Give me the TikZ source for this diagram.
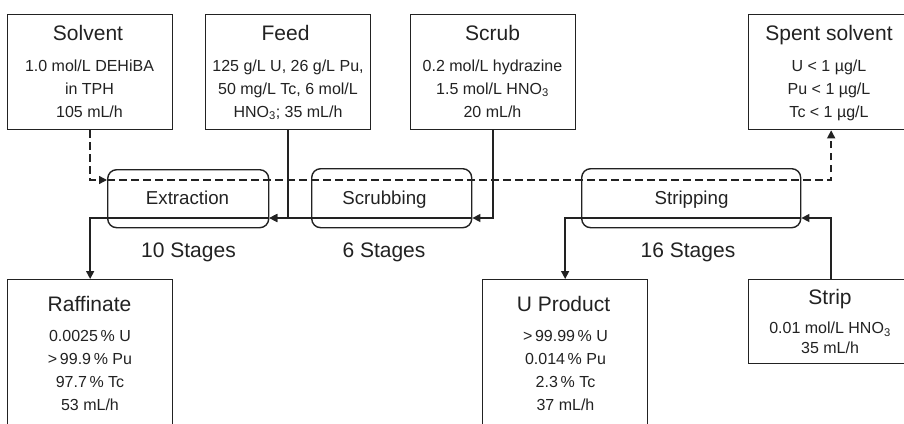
\documentclass[tikz,border=0pt]{standalone}
\usepackage{fontspec}
\setmainfont{Liberation Sans}
\usetikzlibrary{arrows.meta}
\definecolor{ink}{HTML}{222222}
\tikzset{
  x=1pt,y=-1pt,
  box/.style={draw=ink,line width=1.3pt,rectangle,minimum width=165pt,inner sep=0pt,anchor=north west},
  stagebox/.style={draw=ink,line width=1.4pt,rectangle,rounded corners=9pt,inner sep=0pt,anchor=north west},
  ttl/.style={text=ink,font=\fontsize{21}{24}\selectfont,inner sep=0pt,anchor=base},
  body/.style={text=ink,font=\fontsize{16}{23}\selectfont,inner sep=0pt,anchor=base,align=center},
  stage/.style={text=ink,font=\fontsize{18.7}{22}\selectfont,inner sep=0pt,anchor=base},
  count/.style={text=ink,font=\fontsize{21}{24}\selectfont,inner sep=0pt,anchor=base},
  solid flow/.style={draw=ink,line width=1.5pt},
  dash flow/.style={draw=ink,line width=1.4pt,dash pattern=on 7.5pt off 4.5pt},
  tip/.style={-{Triangle[length=8pt,width=8pt]}}
}
\begin{document}
\begin{tikzpicture}
\useasboundingbox (0,0) rectangle (904,423);
\clip (0,0) rectangle (904,423);
\fill[white] (0,0) rectangle (904,423);
% boxes
\node[box,minimum height=115pt] (solvent) at (7,14) {};
\node[box,minimum height=115pt] (feed) at (205,14) {};
\node[box,minimum height=115pt] (scrub) at (410,14) {};
\node[box,minimum height=115pt] (spent) at (748,14) {};
\node[box,minimum height=170pt] (raffinate) at (7,279) {};
\node[box,minimum height=170pt] (uproduct) at (482,279) {};
\node[box,minimum height=84pt] (strip) at (748,279) {};
% stages
\node[stagebox,minimum width=161pt,minimum height=58pt] (extraction) at (107,169) {};
\node[stagebox,minimum width=160pt,minimum height=59pt] (scrubbing) at (311,168) {};
\node[stagebox,minimum width=219pt,minimum height=59pt] (stripping) at (581,168) {};
% connector points
\coordinate (dashin) at (107,180);
\coordinate (exout) at (extraction.east |- 0,218);
\coordinate (scin) at (scrubbing.east |- 0,218);
\coordinate (stin) at (stripping.east |- 0,218);
% dashed solvent path
\draw[dash flow,tip] (solvent.south) |- (dashin);
\draw[dash flow,tip] (dashin) -| (spent.south);
% solid paths
\draw[solid flow,tip] (feed.south) |- (exout);
\draw[solid flow,tip] (scrub.south) |- (scin);
\draw[solid flow,tip] (scin) -- (exout);
\draw[solid flow,tip] (exout) -| (raffinate.north);
\draw[solid flow,tip] (strip.north) |- (stin);
\draw[solid flow,tip] (stin) -| (uproduct.north);
% titles
\node[ttl] (t1) at (88,40.5) {Solvent};
\node[ttl] (t2) at (285.5,40.5) {Feed};
\node[ttl] (t3) at (492.5,40.5) {Scrub};
\node[ttl] (t4) at (829,40.5) {Spent solvent};
\node[ttl] (t5) at (89.5,311) {Raffinate};
\node[ttl] (t6) at (563.5,311) {U Product};
\node[ttl] (t7) at (830,304) {Strip};
% bodies
\node[body] (b1) at (89.5,117) {1.0 mol/L DEHiBA\\in TPH\\105 mL/h};
\node[body] (b2) at (288,117) {125 g/L U, 26 g/L Pu,\\50 mg/L Tc, 6 mol/L\\HNO\textsubscript{3}; 35 mL/h};
\node[body] (b3) at (492.5,117) {0.2 mol/L hydrazine\\1.5 mol/L HNO\textsubscript{3}\\20 mL/h};
\node[body] (b4) at (829,117) {U < 1 µg/L\\Pu < 1 µg/L\\Tc < 1 µg/L};
\node[body] (b5) at (90,410) {0.0025\,\% U\\>\,99.9\,\% Pu\\97.7\,\% Tc\\53 mL/h};
\node[body] (b6) at (565.5,410) {>\,99.99\,\% U\\0.014\,\% Pu\\2.3\,\% Tc\\37 mL/h};
\node[body,font=\fontsize{16}{19.5}\selectfont] (b7) at (830,353) {0.01 mol/L HNO\textsubscript{3}\\35 mL/h};
% stage labels
\node[stage] (s1) at (187.5,204) {Extraction};
\node[stage] (s2) at (384.5,204) {Scrubbing};
\node[stage] (s3) at (691.5,204) {Stripping};
\node[count] (c1) at (188.5,257) {10 Stages};
\node[count] (c2) at (384,257) {6 Stages};
\node[count] (c3) at (688,257) {16 Stages};
\end{tikzpicture}
\end{document}
